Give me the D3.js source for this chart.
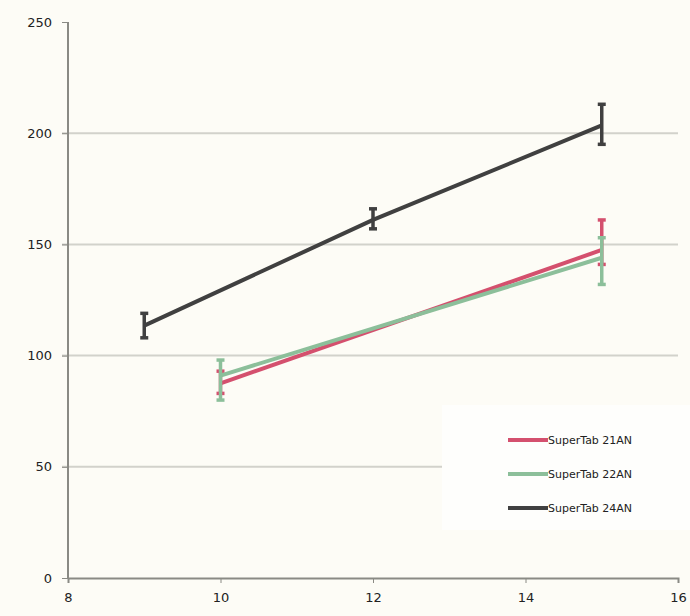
<!DOCTYPE html>
<html><head><meta charset="utf-8">
<script src="https://cdn.jsdelivr.net/npm/d3@7"></script>
<style>html,body{margin:0;padding:0;background:#fdfcf6;}svg{display:block;}</style>
</head><body>
<svg id="c" width="690" height="616"></svg>
<script>
const xTicks = [8, 10, 12, 14, 16];
const yTicks = [0, 50, 100, 150, 200, 250];
const seriesNames = ["SuperTab 21AN", "SuperTab 22AN", "SuperTab 24AN"];
const seriesColors = ["#d4506e", "#8cbf9a", "#404040"];
const x21 = [10, 15], y21 = [87.5, 147.5], lo21 = [83, 141], hi21 = [93, 161];
const x22 = [10, 15], y22 = [91, 144], lo22 = [80, 132], hi22 = [98, 153];
const x24 = [9, 12, 15], y24 = [113.5, 161, 203.5], lo24 = [108, 157, 195], hi24 = [119, 166, 213];

const series = [
  {x: x21, y: y21, lo: lo21, hi: hi21},
  {x: x22, y: y22, lo: lo22, hi: hi22},
  {x: x24, y: y24, lo: lo24, hi: hi24}
];

const svg = d3.select("#c");
const L = 68, R = 678, T = 22, B = 578;
const x = d3.scaleLinear().domain([8, 16]).range([L, R]);
const y = d3.scaleLinear().domain([0, 250]).range([B, T]);

// gridlines
svg.append("g").selectAll("line").data(yTicks.filter(d => d > 0 && d < 250)).join("line")
  .attr("x1", L - 6).attr("x2", R).attr("y1", d => y(d)).attr("y2", d => y(d))
  .attr("stroke", "#d2d2cb").attr("stroke-width", 2);

// legend background
svg.append("rect").attr("x", 442).attr("y", 405).attr("width", 248).attr("height", 125).attr("fill", "#fefefc");

// axes
const yAxis = d3.axisLeft(y).tickValues(yTicks).tickSize(6).tickPadding(10);
const gy = svg.append("g").attr("transform", `translate(${L},0)`).call(yAxis);
const xAxis = d3.axisBottom(x).tickValues(xTicks).tickSize(5).tickPadding(10);
const gx = svg.append("g").attr("transform", `translate(0,${B})`).call(xAxis);
[gy, gx].forEach(g => {
  g.select(".domain").attr("stroke", "#8a8a84").attr("stroke-width", 2);
  g.selectAll(".tick line").attr("stroke", "#8a8a84");
  g.selectAll("text").attr("font-family", "DejaVu Sans, sans-serif").attr("font-size", 13).attr("fill", "#222");
});
gy.select(".domain").attr("d", `M0,${B}V${T}`);

// series
const line = d3.line().x(d => x(d[0])).y(d => y(d[1]));
series.forEach((s, i) => {
  const pts = s.x.map((v, j) => [v, s.y[j]]);
  svg.append("path").attr("d", line(pts)).attr("fill", "none")
    .attr("stroke", seriesColors[i]).attr("stroke-width", 4);
  const g = svg.append("g").attr("stroke", seriesColors[i]).attr("stroke-width", 3.5);
  s.x.forEach((v, j) => {
    g.append("line").attr("x1", x(v)).attr("x2", x(v)).attr("y1", y(s.lo[j])).attr("y2", y(s.hi[j]));
    g.append("line").attr("x1", x(v) - 4).attr("x2", x(v) + 4).attr("y1", y(s.lo[j])).attr("y2", y(s.lo[j]));
    g.append("line").attr("x1", x(v) - 4).attr("x2", x(v) + 4).attr("y1", y(s.hi[j])).attr("y2", y(s.hi[j]));
  });
});

// legend
const lg = svg.append("g");
seriesNames.forEach((n, i) => {
  const yy = 440 + i * 34;
  lg.append("line").attr("x1", 508).attr("x2", 548).attr("y1", yy).attr("y2", yy)
    .attr("stroke", seriesColors[i]).attr("stroke-width", 4);
  lg.append("text").attr("x", 548).attr("y", yy + 4).text(n)
    .attr("font-family", "DejaVu Sans, sans-serif").attr("font-size", 11).attr("fill", "#222");
});
</script>
</body></html>
